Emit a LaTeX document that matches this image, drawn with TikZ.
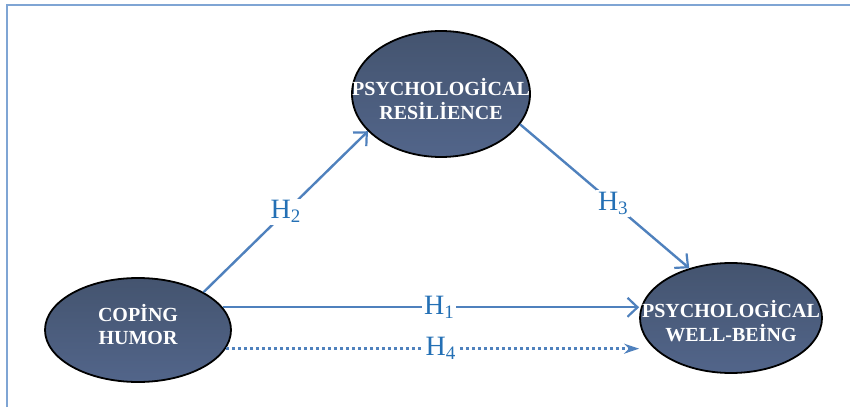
\documentclass[tikz,border=0pt]{standalone}
\usepackage{fontspec}
\setmainfont{Liberation Serif}
\usetikzlibrary{shapes.geometric,arrows.meta}
\definecolor{framec}{HTML}{7FA5D4}
\definecolor{elltop}{HTML}{44546F}
\definecolor{ellbot}{HTML}{52658A}
\definecolor{arrowc}{HTML}{4F81BD}
\definecolor{labc}{HTML}{2470B5}
\tikzset{
  ell/.style={ellipse, draw=black, line width=1.8pt, top color=elltop, bottom color=ellbot, inner sep=0pt},
  elltext/.style={text=white, font=\bfseries\fontsize{20}{23.5}\selectfont, align=center, inner sep=0pt},
  conn/.style={draw=arrowc, line width=2.4pt},
  opentip/.style={-{Straight Barb[length=10pt,width=19pt,line width=2.2pt]}},
  hlab/.style={text=labc, fill=white, font=\fontsize{28}{30}\selectfont, inner sep=2pt},
}
\newcommand{\hsub}[1]{\textsubscript{\fontsize{19}{19}\selectfont #1}}
\begin{document}
\begin{tikzpicture}[x=1pt,y=1pt]
\useasboundingbox (0,0) rectangle (850,407);
\fill[white] (0,0) rectangle (850,407);
\coordinate (fbl) at (7,0);
\coordinate (ftl) at (7,402);
\coordinate (ftr) at (850,402);
\draw[framec, line width=1.6pt] (fbl) -- (ftl) -- (ftr);

\node[ell, minimum width=178pt, minimum height=126pt] (pr) at (441,313) {};
\node[elltext] (prt) at (441,308) {PSYCHOLOGİCAL\\RESİLİENCE};

\node[ell, minimum width=186pt, minimum height=104pt] (ch) at (138,77) {};
\node[elltext] (cht) at (138,82.5) {COPİNG\\HUMOR};

\node[ell, minimum width=182pt, minimum height=110pt] (pwb) at (731,89) {};
\node[elltext] (pwbt) at (731,86) {PSYCHOLOGİCAL\\WELL-BEİNG};

\draw[conn, opentip] (ch.30) -- node[hlab, pos=0.5] (h2) {H\hsub{2}} (pr.207);
\draw[conn, opentip] (pr.339) -- node[hlab, pos=0.55] (h3) {H\hsub{3}} (pwb.130);
\draw[conn, opentip] (ch.15) -- node[hlab, pos=0.52] (h1) {H\hsub{1}} (pwb.west |- ch.15);
\draw[conn, dash pattern=on 3.5pt off 2.5pt, -{Stealth[length=15pt,width=10pt]}] (ch.348) -- node[hlab, pos=0.52] (h4) {H\hsub{4}} (pwb.west |- ch.348);
\end{tikzpicture}
\end{document}
